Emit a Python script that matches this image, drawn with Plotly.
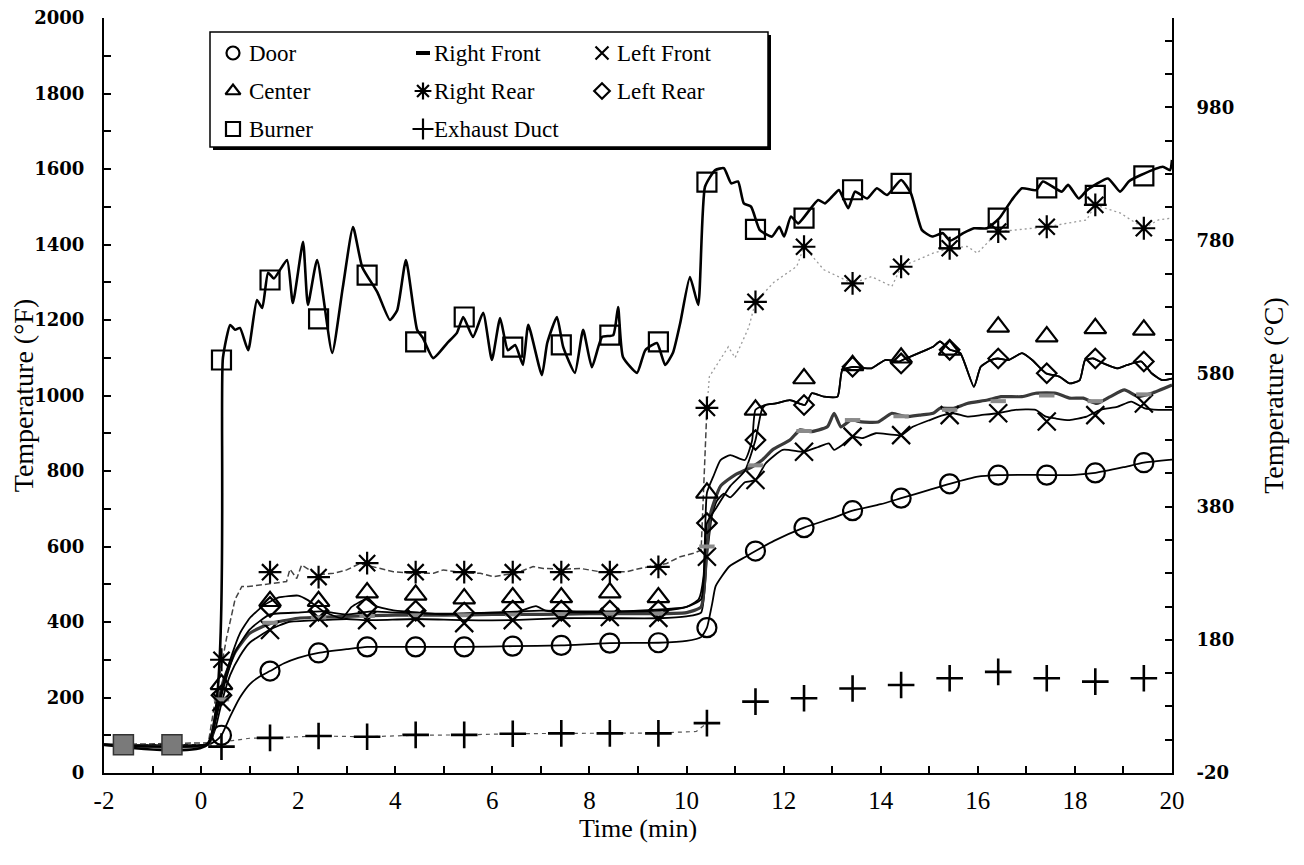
import plotly.graph_objects as go

# ---------------- data (°F vs minutes) ----------------
marker_t = [0.42, 1.42, 2.42, 3.42, 4.42, 5.42, 6.42, 7.42, 8.42, 9.42,
            10.42, 11.42, 12.42, 13.42, 14.42, 15.42, 16.42, 17.42, 18.42, 19.42]
pre_t = [-1.6, -0.6]
pre_f = [75, 75]

burner_t = [-2, 0.12, 0.45, 0.6, 0.7, 0.8, 0.97, 1.15, 1.26, 1.38, 1.5, 1.77, 1.89, 2.1, 2.2, 2.39,
            2.7, 2.92, 3.13, 3.32, 3.63, 3.89, 4.04, 4.22, 4.45, 4.57, 4.78, 5.07, 5.27, 5.4, 5.6,
            5.81, 5.99, 6.16, 6.32, 6.47, 6.63, 6.74, 7.02, 7.13, 7.33, 7.46, 7.7, 7.87, 8.05, 8.26,
            8.49, 8.59, 8.69, 8.98, 9.15, 9.39, 9.56, 9.72, 9.87, 10.07, 10.24, 10.38, 10.59, 10.77,
            10.92, 11.06, 11.18, 11.33, 11.51, 11.76, 11.91, 12.01, 12.15, 12.3, 12.71, 12.85, 13.0,
            13.14, 13.33, 13.47, 13.72, 13.92, 14.13, 14.42, 14.62, 14.85, 15.06, 15.28, 15.43, 15.7,
            15.92, 16.19, 16.44, 16.7, 16.91, 17.2, 17.34, 17.73, 17.86, 18.08, 18.25, 18.68, 18.93,
            19.11, 19.36, 19.81, 19.96, 20.0]
burner_f = [75, 75, 1100, 1187, 1174, 1179, 1120, 1253, 1232, 1325, 1310, 1359, 1245, 1407, 1240, 1359,
            1113, 1287, 1446, 1340, 1274, 1200, 1226, 1359, 1174, 1152, 1099, 1139, 1166, 1208, 1155,
            1219, 1094, 1205, 1120, 1134, 1081, 1187, 1054, 1139, 1208, 1128, 1060, 1174, 1075, 1155,
            1160, 1234, 1102, 1060, 1120, 1139, 1081, 1113, 1192, 1314, 1240, 1553, 1597, 1602,
            1562, 1567, 1509, 1500, 1438, 1421, 1447, 1421, 1474, 1456, 1518, 1509, 1527,
            1544, 1496, 1540, 1522, 1549, 1531, 1571, 1536, 1438, 1421, 1430, 1410, 1430,
            1443, 1443, 1469, 1518, 1549, 1544, 1567, 1540, 1558, 1522, 1544, 1575, 1540,
            1567, 1584, 1606, 1597, 1624]
burner_m = [1094, 1306, 1203, 1319, 1142, 1208, 1128, 1134, 1160, 1142,
            1565, 1440, 1470, 1545, 1562, 1415, 1470, 1550, 1530, 1582]

door_t = [-2, 0.15, 0.3, 0.42, 0.6, 0.8, 1.0, 1.2, 1.42, 1.7, 2.0, 2.42, 3.0, 3.42, 4.42, 5.42, 6.42,
          7.42, 8.42, 9.42, 10.0, 10.3, 10.42, 10.53, 10.6, 10.88, 11.22, 11.42, 11.8, 12.42, 13.0,
          13.42, 14.0, 14.42, 15.0, 15.42, 16.0, 16.42, 17.0, 17.42, 18.0, 18.42, 19.0, 19.42, 20.0]
door_f = [75, 76, 85, 100, 150, 200, 235, 255, 270, 290, 305, 318, 328, 334, 334, 334, 336,
          338, 344, 345, 350, 360, 385, 450, 495, 547, 573, 588, 615, 650, 675,
          695, 712, 728, 750, 766, 785, 789, 790, 789, 790, 795, 810, 822, 830]
door_m = [100, 270, 318, 334, 334, 334, 336, 338, 344, 345,
          385, 588, 650, 695, 728, 766, 789, 789, 795, 822]

upper_t = [11.63, 11.84, 12.13, 12.44, 12.58, 12.83, 13.11, 13.21, 13.46, 13.81, 14.09, 14.38, 14.45,
           14.94, 15.08, 15.22, 15.43, 15.64, 15.92, 16.06, 16.27, 16.41, 16.63, 16.91, 17.12, 17.4,
           17.68, 17.89, 18.1, 18.21, 18.38, 18.59, 18.87, 19.08, 19.37, 19.58, 19.79, 20.0]
upper_f = [975, 979, 988, 975, 1006, 997, 997, 1068, 1076, 1072, 1094, 1090, 1094,
           1121, 1129, 1143, 1121, 1112, 1023, 1076, 1094, 1098, 1094, 1112, 1094, 1059,
           1050, 1032, 1041, 1094, 1098, 1085, 1072, 1081, 1090, 1059, 1041, 1045]

center_t = [-2, 0.15, 0.3, 0.45, 0.6, 0.8, 1.0, 1.3, 1.6, 2.0, 2.2, 2.5, 2.9, 3.1, 3.4, 3.6, 4.0, 4.5,
            5.0, 5.5, 6.0, 6.5, 6.9, 7.1, 7.5, 8.0, 8.5, 9.0, 9.5, 10.0, 10.25, 10.35, 10.42, 10.55,
            10.7, 10.9, 11.2, 11.35, 11.42] + upper_t
center_f = [75, 78, 150, 235, 300, 370, 410, 445, 465, 470, 458, 430, 410, 440, 460, 442, 430, 425,
            420, 423, 425, 426, 442, 430, 426, 425, 427, 428, 430, 440, 460, 520, 742, 785,
            829, 842, 829, 880, 962] + upper_f
center_m = [235, 455, 455, 478, 472, 462, 465, 465, 478, 465,
            742, 962, 1045, 1080, 1100, 1121, 1182, 1156, 1178, 1174]

leftrear_t = [-2, 0.15, 0.3, 0.45, 0.7, 1.0, 1.42, 2.0, 2.5, 3.0, 3.5, 4.0, 5.0, 6.0, 7.0, 8.0, 9.0,
              10.0, 10.3, 10.42, 10.6, 10.9, 11.2, 11.42, 11.55] + upper_t
leftrear_f = [75, 78, 140, 220, 320, 380, 420, 425, 428, 420, 428, 425, 422, 425, 430, 428, 430,
              440, 460, 662, 700, 760, 800, 882, 962] + upper_f
leftrear_m = [206, 440, 430, 440, 430, 425, 430, 430, 430, 430,
              662, 882, 975, 1076, 1085, 1121, 1098, 1059, 1098, 1090]

leftfront_t = [-2, 0.15, 0.3, 0.42, 0.6, 0.8, 1.0, 1.42, 1.8, 2.42, 3.0, 3.42, 4.42, 5.42, 6.42,
               7.42, 8.42, 9.42, 10.0, 10.3, 10.42, 10.52, 10.62, 10.77, 10.9, 11.2, 11.42, 11.63,
               11.98, 12.42, 12.72, 12.93, 13.04, 13.21, 13.42, 13.62, 13.9, 14.42, 14.66, 15.01,
               15.29, 15.5, 15.78, 16.06, 16.41, 16.77, 17.19, 17.4, 17.61, 17.89, 18.24, 18.52,
               18.87, 19.16, 19.44, 19.72, 20.0]
leftfront_f = [75, 77, 120, 185, 260, 310, 345, 380, 400, 405, 408, 405, 408, 405, 405,
               410, 410, 410, 415, 425, 573, 680, 720, 740, 730, 770, 776, 820,
               856, 851, 864, 873, 856, 869, 891, 887, 900, 895, 917, 935,
               948, 953, 944, 948, 953, 962, 962, 944, 939, 935, 944, 962,
               970, 984, 966, 962, 962]
leftfront_m = [188, 379, 411, 405, 411, 397, 405, 411, 413, 411,
               573, 776, 851, 891, 895, 948, 953, 931, 948, 979]

rightfront_t = [-2, 0.15, 0.3, 0.45, 0.7, 1.0, 1.4, 2.0, 3.0, 4.0, 5.0, 6.0, 7.0, 8.0, 9.0, 10.0,
                10.3, 10.42, 10.5, 10.7, 11.0, 11.35, 11.56, 11.77, 12.13, 12.34, 12.55, 12.9, 13.04,
                13.18, 13.39, 13.6, 13.95, 14.23, 14.52, 14.8, 15.08, 15.22, 15.5, 15.78, 16.2,
                16.48, 16.91, 17.19, 17.61, 17.89, 18.17, 18.45, 18.73, 19.02, 19.3, 19.58, 20.0]
rightfront_f = [75, 77, 150, 240, 320, 370, 395, 410, 415, 418, 418, 420, 420, 422, 422, 425,
                440, 600, 690, 760, 790, 811, 829, 856, 882, 909, 904, 917, 953,
                917, 935, 930, 930, 953, 944, 948, 953, 966, 966, 979, 988,
                997, 997, 1006, 1006, 993, 993, 979, 997, 1015, 997, 1006, 1028]
rightfront_m = [195, 398, 412, 416, 418, 418, 420, 421, 422, 422,
                600, 815, 906, 935, 945, 962, 985, 1000, 985, 1003]

rightrear_t = [-2, 0.15, 0.3, 0.53, 0.7, 0.84, 0.97, 1.3, 1.76, 1.83, 1.97, 2.07, 2.4, 2.73, 3.0,
               3.27, 3.69, 3.96, 4.37, 4.79, 4.99, 5.4, 5.75, 6.02, 6.5, 6.84, 7.05, 7.5, 7.81,
               8.22, 8.77, 9.04, 9.59, 9.87, 10.14, 10.3, 10.42, 10.47, 10.86, 11.0, 11.28, 11.42,
               11.8, 12.27, 12.42, 12.83, 13.42, 13.81, 14.23, 14.42, 15.08, 15.42, 15.78, 15.99,
               16.42, 17.42, 18.24, 18.42, 18.94, 19.42, 19.72, 20.0]
rightrear_f = [75, 80, 200, 361, 460, 494, 494, 500, 507, 540, 515, 551, 525, 529, 538,
               555, 542, 533, 529, 529, 538, 530, 529, 520, 530, 547, 542, 540, 542,
               533, 533, 542, 555, 573, 582, 590, 967, 1050, 1129, 1100, 1180, 1248,
               1300, 1342, 1394, 1333, 1297, 1315, 1289, 1341, 1377, 1390, 1395, 1377,
               1434, 1447, 1465, 1505, 1483, 1443, 1465, 1470]
rightrear_m = [300, 532, 519, 556, 532, 532, 532, 532, 532, 546,
               967, 1248, 1394, 1297, 1341, 1390, 1434, 1447, 1505, 1443]

exhaust_t = [-2, 0.15, 0.3, 0.42, 0.6, 1.0, 1.42, 2.42, 3.42, 4.42, 5.42, 6.42, 7.42, 8.42, 9.42,
             10.2, 10.42]
exhaust_f = [75, 75, 72, 70, 85, 92, 93, 98, 96, 100, 101, 104, 105, 106, 106, 110, 132]
exhaust_m = [70, 93, 98, 96, 101, 101, 104, 105, 105, 105,
             132, 189, 198, 224, 233, 251, 268, 251, 242, 251]

legend_names = ["Door", "Right Front", "Left Front", "Center", "Right Rear", "Left Rear",
                "Burner", "Exhaust Duct"]
x_ticks = [-2, 0, 2, 4, 6, 8, 10, 12, 14, 16, 18, 20]
x_ticktext = ["-2", "0", "2", "4", "6", "8", "10", "12", "14", "16", "18", "20"]
c_ticks = [-20, 180, 380, 580, 780, 980]
c_ticktext = ["-20", "180", "380", "580", "780", "980"]

# ---------------- figure ----------------
fig = go.Figure()
BLACK = "black"
SERIF = "Liberation Serif"

def line(t, f, width=1.8, color=BLACK, dash="solid", shape="spline"):
    fig.add_trace(go.Scatter(x=t, y=f, mode="lines", showlegend=False, hoverinfo="skip",
                             line=dict(color=color, width=width, dash=dash, shape=shape,
                                       smoothing=0.5 if shape == "spline" else None)))

def marks(t, f, symbol, size, lw=2.0, color=BLACK, fill=None):
    m = dict(symbol=symbol, size=size, color=color if fill is None else fill,
             line=dict(color=color, width=lw))
    fig.add_trace(go.Scatter(x=t, y=f, mode="markers", showlegend=False, hoverinfo="skip",
                             marker=m))

# split right-rear trace into the dashed early part and the faint dotted later part
k = rightrear_t.index(10.42)

# lines
line(exhaust_t, exhaust_f, width=1.2, color="#555", dash="4px,4px", shape="linear")
line(rightrear_t[:k + 1], rightrear_f[:k + 1], width=1.5, color="#444", dash="6px,3px",
     shape="linear")
line(rightrear_t[k:], rightrear_f[k:], width=1.3, color="#9a9a9a", dash="2px,3px",
     shape="linear")
line(door_t, door_f, width=1.8)
line(leftfront_t, leftfront_f, width=1.8)
line(rightfront_t, rightfront_f, width=3.2, color="#3a3a3a")
line(leftrear_t, leftrear_f, width=1.8)
line(center_t, center_f, width=1.8)
line(burner_t, burner_f, width=2.6)

# markers
marks(marker_t, exhaust_m, "cross-thin-open", 19, lw=2.6)
marks(marker_t, rightrear_m, "asterisk-open", 19, lw=2.2)
marks(marker_t, door_m, "circle-open", 19, lw=2.2)
marks(marker_t, leftfront_m, "x-thin-open", 18, lw=2.2)
marks(marker_t, rightfront_m, "line-ew-open", 11, lw=4, color="#8a8a8a")
marks(marker_t, leftrear_m, "diamond-open", 15, lw=2.2)
marks(marker_t, center_m, "triangle-up-open", 19, lw=2.2)
marks(marker_t, burner_m, "square-open", 19, lw=2.2)
marks(pre_t, pre_f, "square", 20, lw=1.5, color="#333", fill="#7a7a7a")

# y2 anchor trace (invisible)
fig.add_trace(go.Scatter(x=[None], y=[None], yaxis="y2", showlegend=False, hoverinfo="skip"))

# ---------------- hand-built legend (pixel-space overlay axes) ----------------
L_SYM = ["circle-open", "line-ew-open", "x-thin-open", "triangle-up-open", "asterisk-open",
         "diamond-open", "square-open", "cross-thin-open"]
L_SIZE = [13, 10, 13, 13, 14, 12, 14, 15]
col_mx = [233, 423, 602]
col_tx = [247, 432, 615]
row_y = [53, 91, 129]
for i, nm in enumerate(legend_names):
    r, c = divmod(i, 3)
    lw = 4 if L_SYM[i] == "line-ew-open" else 2.2
    fig.add_trace(go.Scatter(x=[col_mx[c]], y=[row_y[r]], xaxis="x2", yaxis="y3", mode="markers",
                             showlegend=False, hoverinfo="skip",
                             marker=dict(symbol=L_SYM[i], size=L_SIZE[i], color=BLACK,
                                         line=dict(color=BLACK, width=lw))))
    fig.add_annotation(x=col_tx[c], y=row_y[r], xref="x2", yref="y3", text=nm, showarrow=False,
                       xanchor="left", yanchor="middle",
                       font=dict(family=SERIF, size=23, color=BLACK))

# legend box with drop shadow (drawn beneath the traces)
fig.add_shape(type="rect", xref="x2", yref="y3", x0=213, x1=771, y0=35, y1=150,
              fillcolor=BLACK, line=dict(width=0), layer="below")
fig.add_shape(type="rect", xref="x2", yref="y3", x0=210, x1=768, y0=32, y1=147,
              fillcolor="white", line=dict(color=BLACK, width=1.5), layer="below")

TICKF = dict(family="DejaVu Serif", size=18, color=BLACK, weight="bold")
TITLEF = dict(family=SERIF, size=28, color=BLACK)

# the page body adds an 8 px margin, so margins are shifted to keep the plot box in place
fig.update_layout(
    width=1304, height=865,
    margin=dict(l=96, r=140, t=10, b=100, autoexpand=False),
    paper_bgcolor="white", plot_bgcolor="white",
    font=dict(family=SERIF, color=BLACK),
    showlegend=False,
    xaxis=dict(range=[-2, 20], tickvals=x_ticks, ticktext=x_ticktext, ticks="inside", ticklen=7,
               tickwidth=1.5, tickcolor=BLACK, showline=True, linecolor=BLACK, linewidth=2,
               showgrid=False, zeroline=False, tickfont=dict(family=SERIF, size=25, color=BLACK),
               ticklabelstandoff=4, ticklabeloverflow="allow",
               minor=dict(dtick=1, ticks="inside", ticklen=7, tickwidth=1.5, tickcolor=BLACK),
               title=dict(text="Time (min)", font=dict(family=SERIF, size=26), standoff=2)),
    xaxis2=dict(range=[104, 1172], overlaying="x", visible=False, fixedrange=True),
    yaxis=dict(range=[0, 2000], dtick=200, ticks="inside", ticklen=7, tickwidth=1.5,
               tickcolor=BLACK, showline=True, linecolor=BLACK, linewidth=2, showgrid=False,
               zeroline=False, tickfont=TICKF, ticklabelstandoff=14, ticklabeloverflow="allow",
               minor=dict(dtick=100, ticks="inside", ticklen=7, tickwidth=1.5, tickcolor=BLACK),
               title=dict(text="Temperature (°F)", font=TITLEF, standoff=10)),
    yaxis2=dict(range=[-20, 1114], overlaying="y", side="right", tickvals=c_ticks,
                ticktext=c_ticktext, ticklabeloverflow="allow",
                ticks="inside", ticklen=7, tickwidth=1.5, tickcolor=BLACK, showline=True,
                linecolor=BLACK, linewidth=2, showgrid=False, zeroline=False, tickfont=TICKF,
                ticklabelstandoff=19,
                minor=dict(tick0=-20, dtick=50, ticks="inside", ticklen=7, tickwidth=1.5,
                           tickcolor=BLACK),
                title=dict(text="Temperature (°C)", font=TITLEF, standoff=30)),
    yaxis3=dict(range=[773, 18], overlaying="y", visible=False, fixedrange=True),
)

fig.write_html("out.html")
